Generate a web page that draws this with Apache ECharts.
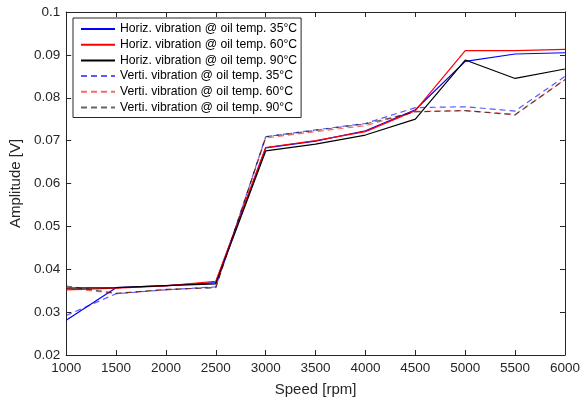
<!DOCTYPE html>
<html>
<head>
<meta charset="utf-8">
<script src="https://cdn.jsdelivr.net/npm/echarts@6/dist/echarts.min.js"></script>
<style>html,body{margin:0;padding:0;background:#fff}#c{width:583px;height:402px}</style>
</head>
<body>
<div id="c"></div>
<script>
const speeds = [1000,1500,2000,2500,3000,3500,4000,4500,5000,5500,6000];
const horiz35 = [0.0281,0.0357,0.0362,0.0369,0.0683,0.0699,0.0723,0.0772,0.0885,0.0902,0.0905];
const horiz60 = [0.0352,0.0356,0.0361,0.0372,0.0684,0.0700,0.0721,0.0770,0.0910,0.0910,0.0913];
const horiz90 = [0.0356,0.0357,0.0362,0.0366,0.0676,0.0692,0.0713,0.0750,0.0888,0.0845,0.0867];
const verti35 = [0.0292,0.0343,0.0352,0.0359,0.0709,0.0725,0.0740,0.0777,0.0779,0.0769,0.0850];
const verti60 = [0.0357,0.0343,0.0352,0.0358,0.0706,0.0721,0.0735,0.0768,0.0770,0.0761,0.0843];
const verti90 = [0.0361,0.0344,0.0353,0.0357,0.0709,0.0724,0.0739,0.0767,0.0770,0.0760,0.0842];
const names = [
  'Horiz. vibration @ oil temp. 35°C',
  'Horiz. vibration @ oil temp. 60°C',
  'Horiz. vibration @ oil temp. 90°C',
  'Verti. vibration @ oil temp. 35°C',
  'Verti. vibration @ oil temp. 60°C',
  'Verti. vibration @ oil temp. 90°C'
];
const seriesData = [horiz35, horiz60, horiz90, verti35, verti60, verti90];
const colors = ['#0000ff','#ff0000','#000000','rgba(0,0,255,0.65)','rgba(255,0,0,0.6)','rgba(0,0,0,0.6)'];
const font = 'Arial, "Liberation Sans", Helvetica, sans-serif';
const axisCol = '#262626';

const series = seriesData.map((d, i) => ({
  name: names[i],
  type: 'line',
  xAxisIndex: 0, yAxisIndex: 0,
  data: speeds.map((s, j) => [s, d[j]]),
  symbol: 'none',
  showSymbol: false,
  animation: false,
  lineStyle: { color: colors[i], width: 1.2, type: i < 3 ? 'solid' : [6, 4] },
  itemStyle: { color: colors[i] },
  z: i < 3 ? 2 : 3
}));

const baseAxis = {
  axisLine: { show: true, lineStyle: { color: axisCol, width: 1 } },
  axisTick: { show: true, inside: true, length: 5, lineStyle: { color: axisCol } },
  splitLine: { show: false }
};

const chart = echarts.init(document.getElementById('c'), null, { renderer: 'canvas' });
chart.setOption({
  animation: false,
  backgroundColor: '#fff',
  grid: { left: 63, right: 17, top: 12, bottom: 45, containLabel: false },
  legend: {
    orient: 'vertical',
    left: 73, top: 18,
    padding: [5, 4, 4, 7],
    itemWidth: 34, itemHeight: 12, itemGap: 3.7,
    borderColor: '#262626', borderWidth: 1,
    backgroundColor: '#fff',
    textStyle: { fontFamily: font, fontSize: 12.2, color: '#000', lineHeight: 12 },
    lineStyle: { width: 2 },
    itemStyle: { opacity: 0, borderWidth: 0 },
    data: names
  },
  xAxis: [
    Object.assign({}, baseAxis, {
      type: 'value', min: 1000, max: 6000, interval: 500,
      name: 'Speed [rpm]', nameLocation: 'middle', nameGap: 27,
      nameTextStyle: { fontFamily: font, fontSize: 15, color: axisCol },
      axisLabel: { fontFamily: font, fontSize: 13.5, color: axisCol, margin: 6,
        formatter: v => String(v) }
    }),
    Object.assign({}, baseAxis, {
      type: 'value', min: 1000, max: 6000, interval: 500, position: 'top',
      axisLabel: { show: false }
    })
  ],
  yAxis: [
    Object.assign({}, baseAxis, {
      type: 'value', min: 0.02, max: 0.1, interval: 0.01,
      name: 'Amplitude [V]', nameLocation: 'middle', nameGap: 38,
      nameTextStyle: { fontFamily: font, fontSize: 15, color: axisCol },
      axisLabel: { fontFamily: font, fontSize: 13.5, color: axisCol, margin: 6,
        formatter: v => String(parseFloat(v.toFixed(3))) }
    }),
    Object.assign({}, baseAxis, {
      type: 'value', min: 0.02, max: 0.1, interval: 0.01, position: 'right',
      axisLabel: { show: false }
    })
  ],
  series: series
});
</script>
</body>
</html>
